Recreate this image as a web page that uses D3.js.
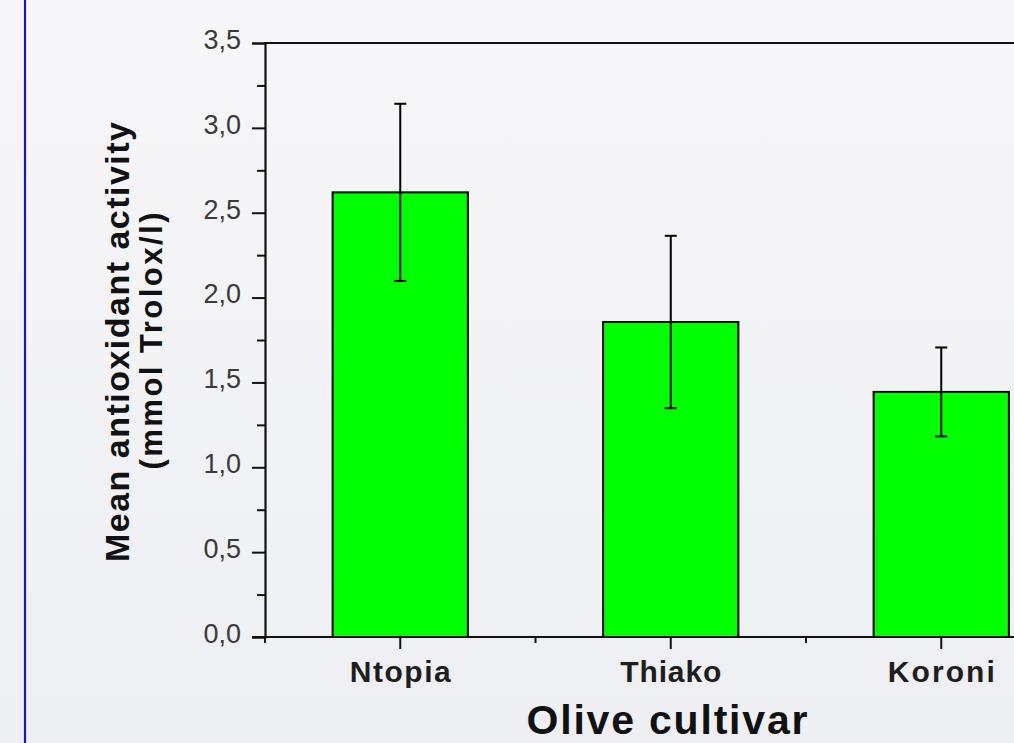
<!DOCTYPE html>
<html><head><meta charset="utf-8">
<script src="https://cdn.jsdelivr.net/npm/d3@7"></script>
<style>
html,body{margin:0;padding:0;overflow:hidden;}
svg{display:block;}
text{font-family:"Liberation Sans",Arial,sans-serif;}
</style></head>
<body>
<svg id="c" width="1014" height="743"></svg>
<script>
// ---- data ----
const categories = ["Ntopia", "Thiako", "Koroni"];
const means = [2.62, 1.856, 1.444];
const errors = [0.522, 0.508, 0.262];
const yTicks = [0, 0.5, 1.0, 1.5, 2.0, 2.5, 3.0, 3.5];
const yMinorTicks = [0.25, 0.75, 1.25, 1.75, 2.25, 2.75, 3.25];
const yTitle1 = "Mean antioxidant activity";
const yTitle2 = "(mmol Trolox/l)";
const xTitle = "Olive cultivar";

(function(){
const W = 1014, H = 743;
const svg = d3.select("#c");

// background
const defs = svg.append("defs");
const g1 = defs.append("linearGradient").attr("id","bg").attr("x1",0).attr("y1",0).attr("x2",0).attr("y2",1);
g1.append("stop").attr("offset","0%").attr("stop-color","#f7f7f9");
g1.append("stop").attr("offset","100%").attr("stop-color","#eeeff3");
svg.append("rect").attr("width",W).attr("height",H).attr("fill","url(#bg)");

// blue vertical line
svg.append("line").attr("x1",25).attr("x2",25).attr("y1",0).attr("y2",H)
  .attr("stroke","#1a1aa8").attr("stroke-width",2.2);

const pLeft = 265, pTop = 43, pBottom = 637;
const x = d3.scaleBand().domain(categories).range([pLeft, pLeft + 3*270.5])
  .paddingInner(0.5).paddingOuter(0.25);
const y = d3.scaleLinear().domain([0, 3.5]).range([pBottom, pTop]);
const locale = d3.formatLocale({decimal: ",", thousands: ".", grouping: [3], currency: ["", ""]});
const fmt = locale.format(".1f");

// top frame line
svg.append("line").attr("x1", pLeft - 1).attr("x2", W).attr("y1", y(3.5)).attr("y2", y(3.5))
  .attr("stroke","#111").attr("stroke-width",2);

// bars
svg.append("g").selectAll("rect").data(categories).join("rect")
  .attr("x", d => x(d))
  .attr("y", (d,i) => y(means[i]))
  .attr("width", x.bandwidth())
  .attr("height", (d,i) => y(0) - y(means[i]))
  .attr("fill", "#00ff00").attr("stroke", "#000").attr("stroke-width", 2);

// error bars
const eb = svg.append("g").attr("stroke","#000").attr("stroke-width",2).attr("fill","none");
categories.forEach((c,i) => {
  const cx = x(c) + x.bandwidth()/2;
  const hi = y(means[i] + errors[i]), lo = y(means[i] - errors[i]);
  eb.append("line").attr("x1",cx).attr("x2",cx).attr("y1",hi).attr("y2",lo);
  eb.append("line").attr("x1",cx-6).attr("x2",cx+6).attr("y1",hi).attr("y2",hi);
  eb.append("line").attr("x1",cx-6).attr("x2",cx+6).attr("y1",lo).attr("y2",lo);
});

// y axis
const yAxis = svg.append("g").attr("transform", `translate(${pLeft},0)`)
  .call(d3.axisLeft(y).tickValues(yTicks).tickSize(13).tickPadding(11).tickFormat(fmt));
yAxis.select(".domain").attr("stroke","#111").attr("stroke-width",2.2);
yAxis.selectAll(".tick line").attr("stroke","#111").attr("stroke-width",2);
yAxis.selectAll(".tick text").attr("font-size",27).attr("fill","#3a3a3a")
  .attr("font-family","'Liberation Sans',Arial,sans-serif").attr("dy","0.2em");
const yMinor = svg.append("g").attr("transform", `translate(${pLeft},0)`)
  .call(d3.axisLeft(y).tickValues(yMinorTicks).tickSize(8).tickFormat(""));
yMinor.select(".domain").remove();
yMinor.selectAll(".tick line").attr("stroke","#111").attr("stroke-width",2);

// x axis
svg.append("line").attr("x1", pLeft - 13).attr("x2", W).attr("y1", pBottom).attr("y2", pBottom)
  .attr("stroke","#111").attr("stroke-width",2.2);
const step = x.step();
const xMinorVals = [pLeft].concat(categories.map(c => x(c) + x.bandwidth()/2 + step/2));
svg.append("g").selectAll("line").data(xMinorVals).join("line")
  .attr("x1", d => d).attr("x2", d => d).attr("y1", pBottom).attr("y2", pBottom + 6)
  .attr("stroke","#111").attr("stroke-width",2);
svg.append("g").selectAll("line").data(categories).join("line")
  .attr("x1", d => x(d) + x.bandwidth()/2).attr("x2", d => x(d) + x.bandwidth()/2)
  .attr("y1", pBottom).attr("y2", pBottom + 12)
  .attr("stroke","#111").attr("stroke-width",2);
const xLabelW = [101, 101, 107];
svg.append("g").selectAll("text").data(categories).join("text")
  .attr("x", d => x(d) + x.bandwidth()/2).attr("y", 682)
  .attr("text-anchor","middle").attr("font-size",30).attr("font-weight","bold")
  .attr("fill","#1e1e1e")
  .attr("textLength", (d,i) => xLabelW[i]).attr("lengthAdjust","spacing")
  .text(d => d);

// titles
svg.append("text").attr("x", 667).attr("y", 734).attr("text-anchor","middle")
  .attr("font-size",41).attr("font-weight","bold").attr("fill","#111")
  .attr("textLength",281).attr("lengthAdjust","spacing").text(xTitle);
svg.append("text").attr("transform","translate(129,342) rotate(-90)").attr("text-anchor","middle")
  .attr("font-size",34).attr("font-weight","bold").attr("fill","#111")
  .attr("textLength",440).attr("lengthAdjust","spacing").text(yTitle1);
svg.append("text").attr("transform","translate(162,341) rotate(-90)").attr("text-anchor","middle")
  .attr("font-size",31).attr("font-weight","bold").attr("fill","#111")
  .attr("textLength",257).attr("lengthAdjust","spacing").text(yTitle2);
})();
</script>
</body></html>
